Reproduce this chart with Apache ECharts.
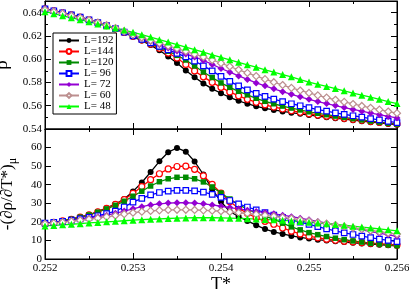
<!DOCTYPE html>
<html><head><meta charset="utf-8">
<script src="https://cdn.jsdelivr.net/npm/echarts@6/dist/echarts.min.js"></script>
<style>html,body{margin:0;padding:0;background:#fff}#c{width:409px;height:289px}</style>
</head><body><div id="c"></div>
<script>
// ---- data ----
const tValues = [0.2520,0.2521,0.2522,0.2523,0.2524,0.2525,0.2526,0.2527,0.2528,0.2529,
  0.2530,0.2531,0.2532,0.2533,0.2534,0.2535,0.2536,0.2537,0.2538,0.2539,
  0.2540,0.2541,0.2542,0.2543,0.2544,0.2545,0.2546,0.2547,0.2548,0.2549,
  0.2550,0.2551,0.2552,0.2553,0.2554,0.2555,0.2556,0.2557,0.2558,0.2559,0.2560];
const legendLabels = ['L=192','L=144','L=120','L= 96','L= 72','L= 60','L= 48'];
const xTickLabels = ['0.252','0.253','0.254','0.255','0.256'];

const rho192 = [0.6433,0.6416,0.6399,0.6380,0.6361,0.6337,0.6314,0.6288,0.6260,0.6228,0.6194,0.6160,0.6121,0.6076,0.6023,0.5967,0.5903,0.5845,0.5792,0.5745,0.5707,0.5672,0.5642,0.5617,0.5595,0.5578,0.5564,0.5551,0.5540,0.5530,0.5520,0.5511,0.5501,0.5493,0.5484,0.5476,0.5467,0.5459,0.5452,0.5444,0.5437];
const rho144 = [0.6433,0.6416,0.6399,0.6380,0.6361,0.6337,0.6314,0.6288,0.6261,0.6230,0.6196,0.6164,0.6130,0.6093,0.6053,0.6010,0.5955,0.5899,0.5848,0.5801,0.5758,0.5719,0.5685,0.5655,0.5630,0.5608,0.5589,0.5572,0.5557,0.5543,0.5531,0.5520,0.5510,0.5501,0.5492,0.5483,0.5475,0.5466,0.5459,0.5451,0.5443];
const rho120 = [0.6433,0.6416,0.6399,0.6380,0.6361,0.6337,0.6314,0.6288,0.6261,0.6231,0.6197,0.6167,0.6135,0.6102,0.6068,0.6033,0.5993,0.5942,0.5890,0.5843,0.5796,0.5758,0.5724,0.5694,0.5664,0.5638,0.5617,0.5597,0.5580,0.5564,0.5548,0.5535,0.5523,0.5511,0.5500,0.5489,0.5478,0.5468,0.5459,0.5450,0.5442];
const rho96  = [0.6433,0.6416,0.6399,0.6381,0.6362,0.6337,0.6314,0.6289,0.6262,0.6232,0.6200,0.6170,0.6140,0.6110,0.6080,0.6050,0.6019,0.5984,0.5942,0.5899,0.5852,0.5809,0.5771,0.5737,0.5707,0.5681,0.5657,0.5636,0.5617,0.5600,0.5583,0.5567,0.5553,0.5539,0.5526,0.5514,0.5502,0.5490,0.5478,0.5466,0.5454];
const rho72  = [0.6429,0.6412,0.6395,0.6377,0.6358,0.6338,0.6316,0.6292,0.6267,0.6238,0.6207,0.6179,0.6151,0.6123,0.6096,0.6070,0.6044,0.6019,0.5989,0.5955,0.5920,0.5888,0.5856,0.5826,0.5796,0.5771,0.5745,0.5721,0.5698,0.5677,0.5655,0.5636,0.5619,0.5601,0.5584,0.5568,0.5553,0.5537,0.5523,0.5508,0.5495];
const rho60  = [0.6425,0.6408,0.6391,0.6373,0.6355,0.6336,0.6315,0.6292,0.6268,0.6241,0.6211,0.6186,0.6162,0.6138,0.6115,0.6092,0.6068,0.6044,0.6019,0.5993,0.5966,0.5937,0.5909,0.5882,0.5855,0.5828,0.5802,0.5778,0.5754,0.5731,0.5710,0.5689,0.5670,0.5651,0.5633,0.5615,0.5598,0.5582,0.5566,0.5550,0.5536];
const rho48  = [0.6408,0.6391,0.6373,0.6356,0.6339,0.6321,0.6303,0.6285,0.6268,0.6250,0.6231,0.6210,0.6190,0.6168,0.6147,0.6125,0.6104,0.6082,0.6060,0.6037,0.6016,0.5995,0.5973,0.5952,0.5931,0.5909,0.5889,0.5868,0.5848,0.5825,0.5803,0.5784,0.5766,0.5747,0.5728,0.5709,0.5691,0.5673,0.5655,0.5636,0.5619];

const d192 = [19.0,19.7,20.5,21.4,22.5,23.8,25.5,27.5,29.6,32.3,36.4,41.2,46.8,52.6,57.5,59.8,57.8,52.5,45.5,37.6,30.8,25.6,22.9,20.5,18.2,16.1,14.6,13.5,12.4,11.6,11.0,10.4,9.9,9.5,9.1,8.7,8.4,8.0,7.7,7.4,7.1];
const d144 = [19.0,19.7,20.5,21.4,22.5,23.8,25.4,27.3,29.4,32.0,35.3,39.0,42.7,45.9,48.5,49.8,50.0,48.3,44.8,40.2,35.5,31.0,27.3,24.6,22.2,20.3,18.7,16.7,15.0,13.5,12.3,11.4,10.7,10.1,9.6,9.2,8.8,8.5,8.2,7.9,7.6];
const d120 = [19.0,19.7,20.5,21.4,22.5,23.7,25.2,27.0,28.9,31.1,33.8,36.5,39.3,41.6,43.2,44.0,44.0,43.2,41.5,38.8,35.5,32.3,29.3,26.8,24.7,23.0,21.5,19.3,17.3,15.7,14.2,13.1,12.1,11.2,10.4,9.7,9.1,8.5,8.0,7.6,7.2];
const d96  = [19.3,19.8,20.3,20.9,21.6,22.4,23.3,24.4,25.8,28.0,30.6,32.6,34.5,35.8,36.5,36.9,37.0,36.7,36.0,34.8,33.2,31.5,29.7,28.0,26.4,25.0,23.7,22.4,21.1,19.8,18.6,17.4,16.2,15.1,14.1,13.2,12.3,11.5,10.7,10.0,9.4];
const d72  = [19.0,19.5,20.0,20.6,21.3,22.0,22.8,23.6,24.6,25.8,27.0,28.2,29.1,29.7,30.1,30.3,30.3,30.1,29.7,29.1,28.4,27.7,27.0,26.3,25.6,25.0,24.3,23.6,22.8,22.0,21.1,20.2,19.3,18.4,17.5,16.6,15.7,14.8,13.9,13.0,12.2];
const d60  = [18.9,19.3,19.8,20.3,20.8,21.4,22.0,22.7,23.4,24.2,24.9,25.5,25.9,26.2,26.4,26.5,26.5,26.4,26.2,26.0,25.7,25.3,24.9,24.5,24.0,23.5,23.0,22.4,21.8,21.1,20.4,19.7,19.0,18.3,17.5,16.8,16.1,15.4,14.7,14.0,13.4];
const d48  = [17.8,18.1,18.4,18.7,19.0,19.4,19.7,20.0,20.3,20.6,20.9,21.2,21.4,21.6,21.8,22.0,22.1,22.2,22.2,22.2,22.1,22.0,21.9,21.7,21.5,21.3,21.1,20.8,20.5,20.2,19.8,19.4,19.0,18.6,18.2,17.7,17.2,16.7,16.2,15.7,15.2];

const rhoSets = [rho192, rho144, rho120, rho96, rho72, rho60, rho48];
const derivSets = [d192, d144, d120, d96, d72, d60, d48];

// ---- styles ----
const DIAMOND = 'path://M0,-10L10,0L0,10L-10,0Z';
const styles = [
  {color:'#000000', symbol:'circle',   hollow:false, size:6},
  {color:'#ff0000', symbol:'circle',   hollow:true,  size:6},
  {color:'#008b00', symbol:'rect',     hollow:false, size:5.5},
  {color:'#0000ff', symbol:'rect',     hollow:true,  size:5.5},
  {color:'#9400d3', symbol:DIAMOND,    hollow:false, size:7},
  {color:'#bc8f8f', symbol:DIAMOND,    hollow:true,  size:7},
  {color:'#00ff00', symbol:'triangle', hollow:false, size:7}
];
const FONT = 'Liberation Serif';

function mkSeries(idx, gridIdx, values){
  const s = styles[idx];
  return {
    name: legendLabels[idx], type:'line',
    xAxisIndex: gridIdx*2, yAxisIndex: gridIdx*2,
    data: tValues.map((t,i)=>[t, values[i]]),
    symbol: s.symbol, symbolSize: s.size, showSymbol:true, showAllSymbol:true,
    lineStyle:{color:s.color, width:1.3},
    itemStyle: s.hollow ? {color:'#ffffff', borderColor:s.color, borderWidth:1.2}
                        : {color:s.color, borderColor:s.color, borderWidth:0},
    emphasis:{disabled:true}, animation:false, silent:true
  };
}

const tickStyle = {color:'#000', width:1};
function xAx(gridIndex, position, withLabels, extra){
  return Object.assign({
    type:'value', gridIndex, position, min:0.252, max:0.256, interval:0.001,
    axisLine:{show:true, onZero:false, lineStyle:tickStyle},
    axisTick:{show:true, inside:true, length:6, lineStyle:tickStyle},
    minorTick:{show:true, splitNumber:2, length:3, lineStyle:tickStyle},
    splitLine:{show:false}, minorSplitLine:{show:false},
    axisLabel:{show:withLabels, margin:4, color:'#000', fontFamily:FONT, fontSize:11,
      formatter:(v)=>{const k=Math.round((v-0.252)/0.001); return xTickLabels[k] !== undefined ? xTickLabels[k] : '';}}
  }, extra||{});
}
function yAx(gridIndex, position, withLabels, min, max, interval, minor, digits, extra){
  return Object.assign({
    type:'value', gridIndex, position, min, max, interval,
    axisLine:{show:true, onZero:false, lineStyle:tickStyle},
    axisTick:{show:true, inside:true, length:6, lineStyle:tickStyle},
    minorTick:{show:minor, splitNumber:2, length:3, lineStyle:tickStyle},
    splitLine:{show:false}, minorSplitLine:{show:false},
    axisLabel:{show:withLabels, margin:3, color:'#000', fontFamily:FONT, fontSize:11,
      showMaxLabel:false, formatter:(v)=>v.toFixed(digits)}
  }, extra||{});
}

const series = [];
for (let i=0;i<7;i++) series.push(mkSeries(i,0,rhoSets[i]));
for (let i=0;i<7;i++) series.push(mkSeries(i,1,derivSets[i]));

const option = {
  backgroundColor:'#fff', animation:false,
  grid:[
    {left:45, top:1, width:352, height:128, show:true, borderColor:'#000', borderWidth:1, backgroundColor:'transparent', outerBoundsMode:'none'},
    {left:45, top:129, width:352, height:130, show:true, borderColor:'#000', borderWidth:1, backgroundColor:'transparent', outerBoundsMode:'none'}
  ],
  xAxis:[
    xAx(0,'bottom',false),
    xAx(0,'top',false),
    xAx(1,'bottom',true,{name:'T*', nameLocation:'middle', nameGap:17,
      nameTextStyle:{fontFamily:FONT, fontSize:18, color:'#000'}}),
    xAx(1,'top',false)
  ],
  yAxis:[
    yAx(0,'left',true,0.54,0.65,0.02,true,2,{name:'ρ', nameLocation:'middle', nameGap:28, nameRotate:90,
      nameTextStyle:{fontFamily:FONT, fontSize:19, color:'#000'}}),
    yAx(0,'right',false,0.54,0.65,0.02,true,2),
    yAx(1,'left',true,0,70,10,false,0,{name:'{a|-(∂ρ/∂T*)}{b|μ}', nameLocation:'middle', nameGap:26, nameRotate:90,
      nameTextStyle:{fontFamily:FONT, fontSize:17, color:'#000',
        rich:{a:{fontFamily:FONT, fontSize:17, color:'#000'}, b:{fontFamily:FONT, fontSize:12, color:'#000', padding:[10,0,0,0]}}}}),
    yAx(1,'right',false,0,70,10,false,0)
  ],
  legend:{
    show:true, orient:'vertical', left:53, top:33, data:legendLabels,
    backgroundColor:'#fff', borderColor:'#000', borderWidth:1, borderRadius:0,
    padding:[2,3,2,5], itemWidth:20, itemHeight:6, itemGap:0, selectedMode:false,
    textStyle:{fontFamily:FONT, fontSize:11, color:'#000', lineHeight:11}
  },
  series
};
const chart = echarts.init(document.getElementById('c'), null, {renderer:'canvas'});
chart.setOption(option);
</script></body></html>
